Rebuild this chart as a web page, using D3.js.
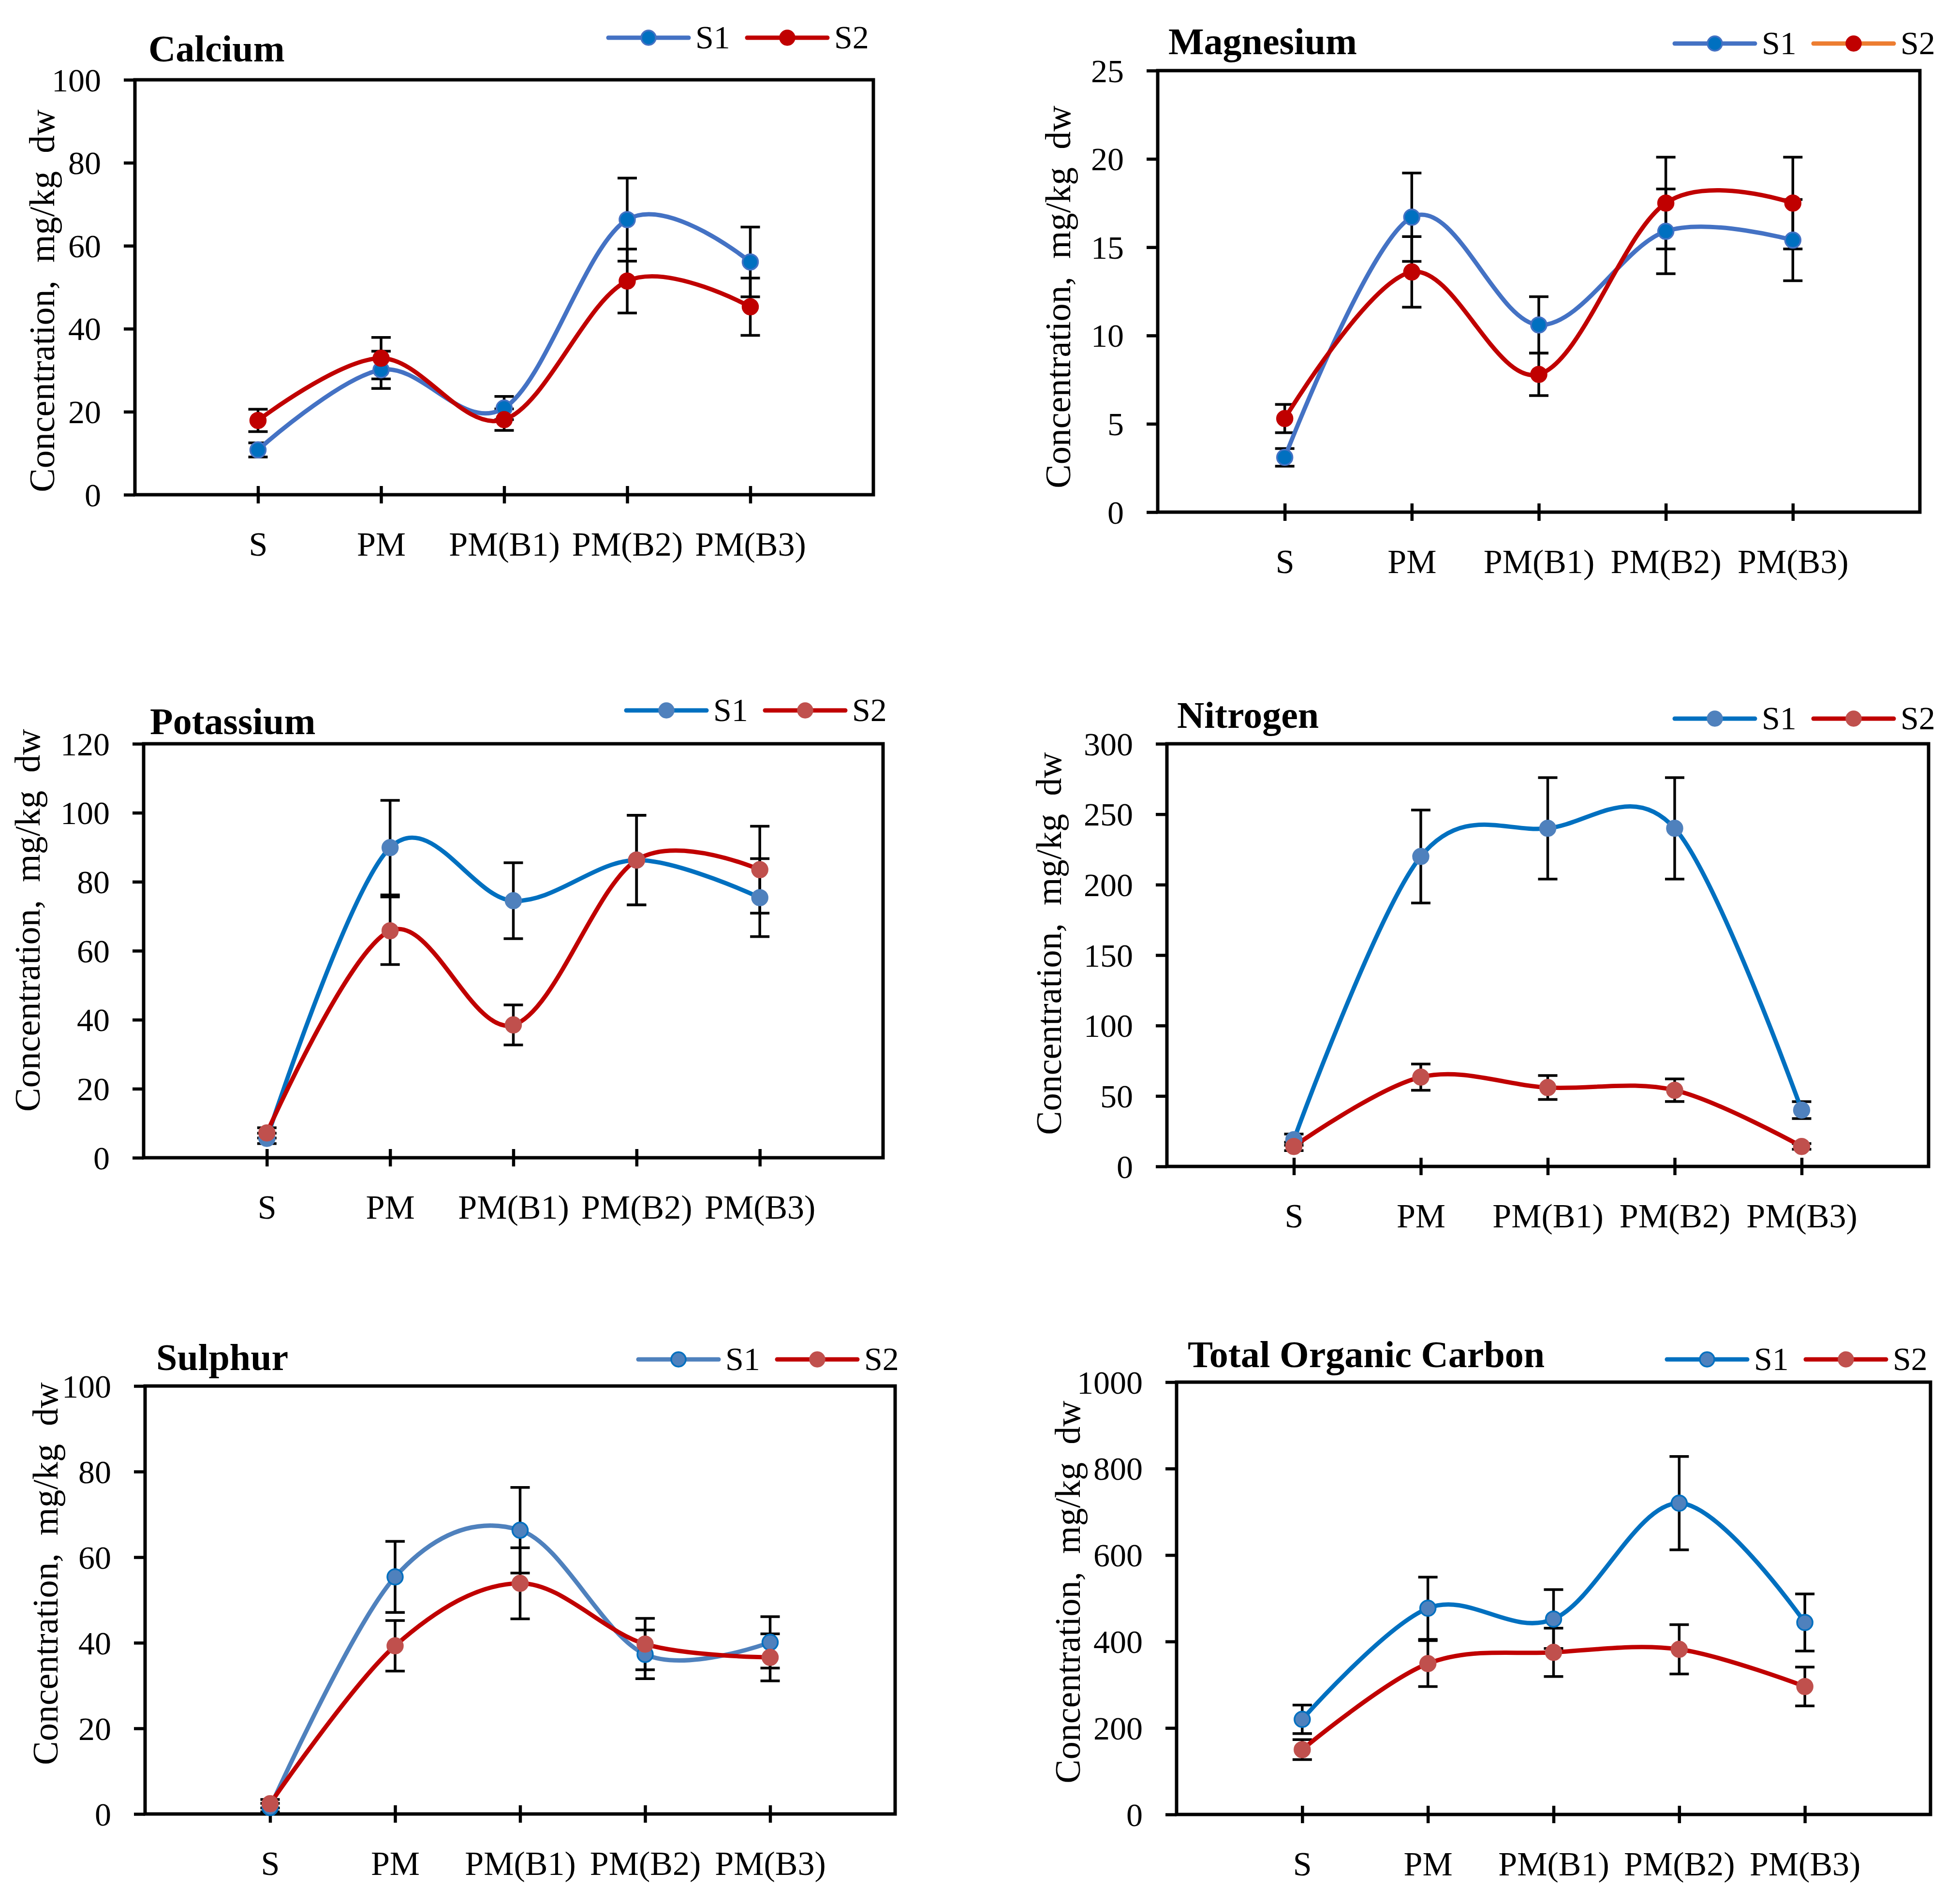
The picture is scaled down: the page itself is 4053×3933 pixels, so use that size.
<!DOCTYPE html>
<html lang="en">
<head>
<meta charset="UTF-8">
<title>Concentration panels</title>
<script src="https://d3js.org/d3.v7.min.js"></script>
<style>
	body, html { margin: 0; padding: 0; background: #fff; }
	svg { display: block; }
	text { font-family: 'Palatino Linotype', 'Book Antiqua', 'Liberation Serif', serif; fill: #000; }
	.ytitle { white-space: pre; }
</style>
</head>
<body>
<svg></svg>
<script>
	const width = 4053, height = 3933;

	const categories = ["S", "PM", "PM(B1)", "PM(B2)", "PM(B3)"];

	const calciumS1 = [10.8, 30.1, 20.9, 66.3, 56.1];
	const calciumS1Err = [1.7, 4.5, 2.8, 10, 8.4];
	const calciumS2 = [17.9, 32.9, 18.1, 51.5, 45.3];
	const calciumS2Err = [2.7, 5, 2.6, 7.7, 6.9];
	const calciumTicks = [0, 20, 40, 60, 80, 100];

	const magnesiumS1 = [3.1, 16.7, 10.6, 15.9, 15.4];
	const magnesiumS1Err = [0.5, 2.5, 1.6, 2.4, 2.3];
	const magnesiumS2 = [5.3, 13.6, 7.8, 17.5, 17.5];
	const magnesiumS2Err = [0.8, 2.0, 1.2, 2.6, 2.6];
	const magnesiumTicks = [0, 5, 10, 15, 20, 25];

	const potassiumS1 = [5.6, 89.9, 74.5, 86.3, 75.4];
	const potassiumS1Err = [1.5, 13.7, 11, 13, 11.3];
	const potassiumS2 = [7.2, 65.8, 38.5, 86.3, 83.5];
	const potassiumS2Err = [1.5, 9.8, 5.8, 13, 12.6];
	const potassiumTicks = [0, 20, 40, 60, 80, 100, 120];

	const nitrogenS1 = [19, 220, 240, 240, 40];
	const nitrogenS1Err = [4, 33, 36, 36, 6];
	const nitrogenS2 = [14.2, 63.4, 56, 54.1, 14.2];
	const nitrogenS2Err = [3, 9.3, 8.5, 8, 2];
	const nitrogenTicks = [0, 50, 100, 150, 200, 250, 300];

	const sulphurS1 = [1.5, 55.4, 66.3, 37.3, 40.1];
	const sulphurS1Err = [1, 8.3, 10, 5.7, 6];
	const sulphurS2 = [2.4, 39.3, 53.9, 39.7, 36.6];
	const sulphurS2Err = [1, 5.9, 8.3, 6, 5.5];
	const sulphurTicks = [0, 20, 40, 60, 80, 100];

	const tocS1 = [220, 477, 452, 720, 444];
	const tocS1Err = [33, 72, 68, 108, 66];
	const tocS2 = [150, 349, 375, 382, 296];
	const tocS2Err = [23, 53, 56, 57, 45];
	const tocTicks = [0, 200, 400, 600, 800, 1000];

	// colour sets used by the original panels
	const styleA = { l1: "#4472C4", m1: "#0070C0", ms1: "#4472C4", l2: "#C00000", m2: "#C00000", ms2: "#C00000" };
	const styleB = { l1: "#0070C0", m1: "#4F81BD", ms1: "#4F81BD", l2: "#C00000", m2: "#C0504D", ms2: "#C0504D" };
	const styleC = { l1: "#4F81BD", m1: "#4F81BD", ms1: "#0070C0", l2: "#C00000", m2: "#C0504D", ms2: "#C0504D" };
	const styleD = { l1: "#0070C0", m1: "#4F81BD", ms1: "#0070C0", l2: "#C00000", m2: "#C0504D", ms2: "#C0504D" };

	const panels = [
		{ title: "Calcium", s1: calciumS1, e1: calciumS1Err, s2: calciumS2, e2: calciumS2Err, ticks: calciumTicks,
		  box: [279, 1806, 165, 1023], titleAt: [307, 127], legendAt: [1258, 78], yTitleAt: [112, 622], st: styleA },
		{ title: "Magnesium", s1: magnesiumS1, e1: magnesiumS1Err, s2: magnesiumS2, e2: magnesiumS2Err, ticks: magnesiumTicks,
		  box: [2394, 3970, 146, 1059], titleAt: [2416, 112], legendAt: [3463, 90], yTitleAt: [2213, 614], st: styleA, legendLine2: "#ED7D31" },
		{ title: "Potassium", s1: potassiumS1, e1: potassiumS1Err, s2: potassiumS2, e2: potassiumS2Err, ticks: potassiumTicks,
		  box: [297, 1826, 1538, 2394], titleAt: [310, 1518], legendAt: [1295, 1469], yTitleAt: [82, 1903], st: styleB },
		{ title: "Nitrogen", s1: nitrogenS1, e1: nitrogenS1Err, s2: nitrogenS2, e2: nitrogenS2Err, ticks: nitrogenTicks,
		  box: [2413, 3988, 1538, 2412], titleAt: [2434, 1505], legendAt: [3463, 1486], yTitleAt: [2194, 1951], st: styleB },
		{ title: "Sulphur", s1: sulphurS1, e1: sulphurS1Err, s2: sulphurS2, e2: sulphurS2Err, ticks: sulphurTicks,
		  box: [300, 1851, 2866, 3751], titleAt: [323, 2833], legendAt: [1320, 2811], yTitleAt: [119, 3254], st: styleC },
		{ title: "Total Organic Carbon", s1: tocS1, e1: tocS1Err, s2: tocS2, e2: tocS2Err, ticks: tocTicks,
		  box: [2433, 3992, 2858, 3752], titleAt: [2456, 2827], legendAt: [3447, 2811], yTitleAt: [2233, 3292], st: styleD }
	];

	const svg = d3.select("svg").attr("width", width).attr("height", height);
	svg.append("rect").attr("width", width).attr("height", height).attr("fill", "#fff");

	panels.forEach(p => drawPanel(p));

	function drawPanel(p) {
		const [left, right, top, bottom] = p.box;
		const g = svg.append("g");

		const x = d3.scalePoint().domain(categories).range([left, right]).padding(1);
		const y = d3.scaleLinear().domain([0, d3.max(p.ticks)]).range([bottom, top]);

		// y axis
		const yAxis = g.append("g")
			.attr("transform", `translate(${left},0)`)
			.call(d3.axisLeft(y).tickValues(p.ticks).tickSize(23).tickPadding(47).tickFormat(d3.format("d")));
		yAxis.select(".domain").remove();
		yAxis.selectAll(".tick line").attr("stroke", "#000").attr("stroke-width", 6.5);
		yAxis.selectAll(".tick text").attr("font-size", 68).attr("dy", "0.34em")
			.style("font-family", "'Palatino Linotype','Book Antiqua','Liberation Serif',serif");

		// x axis, ticks cross the axis line
		const xAxis = g.append("g")
			.attr("transform", `translate(0,${bottom})`)
			.call(d3.axisBottom(x).tickSize(17));
		xAxis.select(".domain").remove();
		xAxis.selectAll(".tick line").attr("y1", -18).attr("y2", 18).attr("stroke", "#000").attr("stroke-width", 6.5);
		xAxis.selectAll(".tick text").attr("y", 126).attr("dy", 0).attr("font-size", 70)
			.style("font-family", "'Palatino Linotype','Book Antiqua','Liberation Serif',serif");

		// frame
		g.append("rect")
			.attr("x", left).attr("y", top)
			.attr("width", right - left).attr("height", bottom - top)
			.attr("fill", "none").attr("stroke", "#000").attr("stroke-width", 7);

		const series = [
			{ v: p.s1, e: p.e1, line: p.st.l1, fill: p.st.m1, stroke: p.st.ms1 },
			{ v: p.s2, e: p.e2, line: p.st.l2, fill: p.st.m2, stroke: p.st.ms2 }
		];

		// error bars
		series.forEach(s => {
			const eb = g.append("g").attr("stroke", "#000").attr("stroke-width", 5.5);
			categories.forEach((c, i) => {
				const cx = x(c), hi = y(s.v[i] + s.e[i]), lo = y(s.v[i] - s.e[i]);
				eb.append("line").attr("x1", cx).attr("x2", cx).attr("y1", hi).attr("y2", lo);
				eb.append("line").attr("x1", cx - 20).attr("x2", cx + 20).attr("y1", hi).attr("y2", hi);
				eb.append("line").attr("x1", cx - 20).attr("x2", cx + 20).attr("y1", lo).attr("y2", lo);
			});
		});

		const line = d3.line()
			.x((d, i) => x(categories[i]))
			.y(d => y(d))
			.curve(d3.curveCardinal.tension(0));

		series.forEach(s => {
			g.append("path").attr("d", line(s.v))
				.attr("fill", "none").attr("stroke", s.line).attr("stroke-width", 9)
				.attr("stroke-linecap", "round");
		});
		series.forEach(s => {
			g.selectAll(null).data(s.v).enter().append("circle")
				.attr("cx", (d, i) => x(categories[i]))
				.attr("cy", d => y(d))
				.attr("r", 16)
				.attr("fill", s.fill).attr("stroke", s.stroke).attr("stroke-width", 3.5);
		});

		// title
		g.append("text").attr("x", p.titleAt[0]).attr("y", p.titleAt[1])
			.attr("font-size", 78).attr("font-weight", "bold").text(p.title);

		// y axis title
		g.append("text").attr("class", "ytitle")
			.attr("transform", `translate(${p.yTitleAt[0]},${p.yTitleAt[1]}) rotate(-90)`)
			.attr("text-anchor", "middle").attr("font-size", 74)
			.text("Concentration,  mg/kg  dw");

		// legend
		const [lx, ly] = p.legendAt;
		const items = [
			{ name: "S1", line: p.st.l1, fill: p.st.m1, stroke: p.st.ms1, x0: lx },
			{ name: "S2", line: p.legendLine2 || p.st.l2, fill: p.st.m2, stroke: p.st.ms2, x0: lx + 287 }
		];
		items.forEach(it => {
			g.append("line").attr("x1", it.x0).attr("x2", it.x0 + 166).attr("y1", ly).attr("y2", ly)
				.attr("stroke", it.line).attr("stroke-width", 9).attr("stroke-linecap", "round");
			g.append("circle").attr("cx", it.x0 + 83).attr("cy", ly).attr("r", 15)
				.attr("fill", it.fill).attr("stroke", it.stroke).attr("stroke-width", 3.5);
			g.append("text").attr("x", it.x0 + 180).attr("y", ly + 22)
				.attr("font-size", 68).text(it.name);
		});
	}
</script>
</body>
</html>
